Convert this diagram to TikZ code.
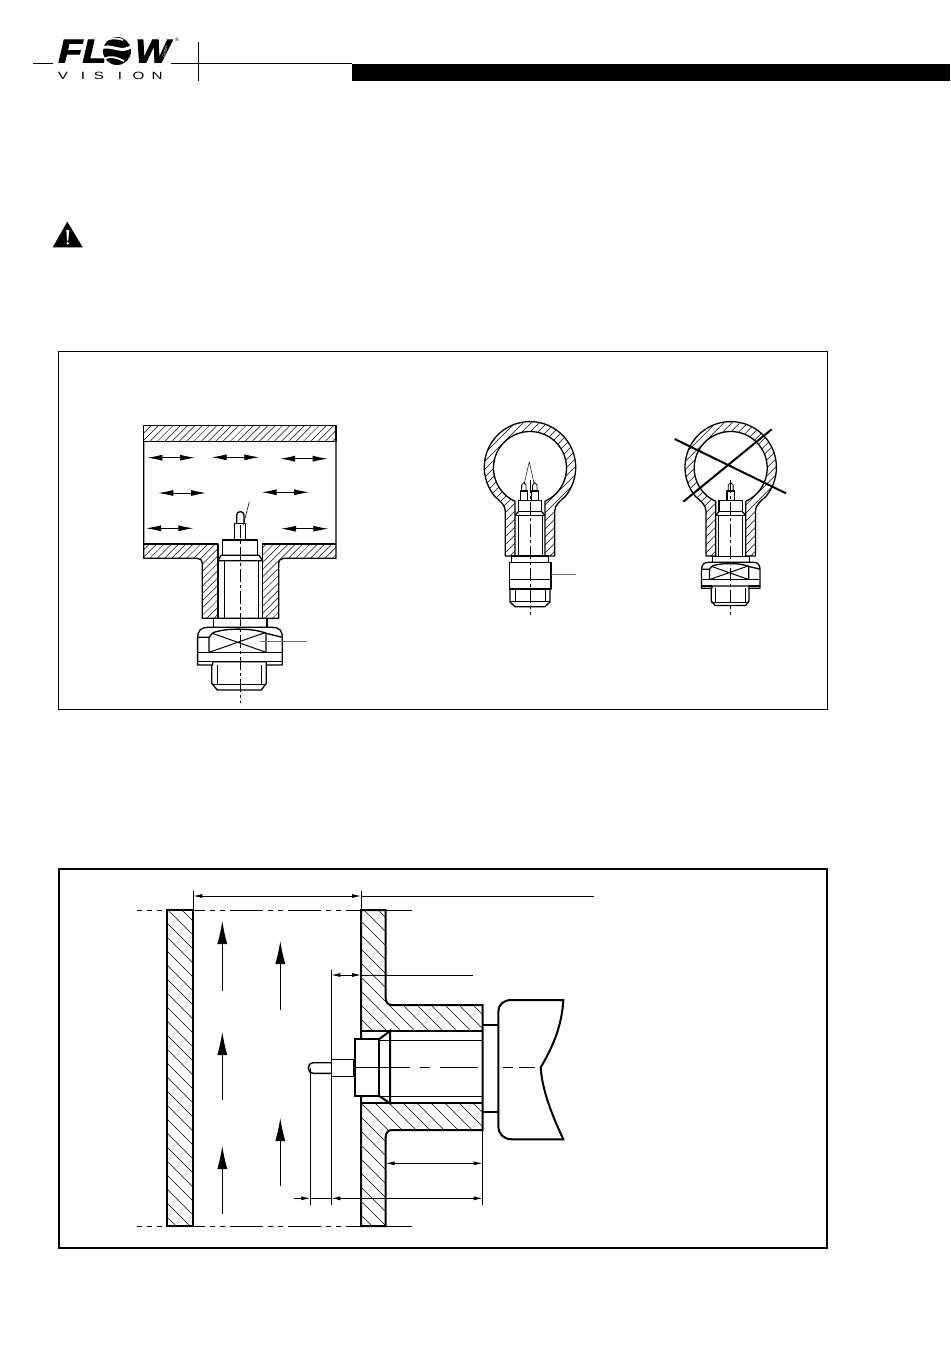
\documentclass[tikz,border=0pt]{standalone}
\usepackage{fontspec}
\setmainfont{Liberation Sans}
\newfontface\logoface[FakeBold=2.5]{Liberation Sans Bold Italic}
\usetikzlibrary{arrows.meta}
\definecolor{leaderColor}{RGB}{110,110,110}
\tikzset{
  outline/.style={line width=1.3pt,line join=round},
  wallline/.style={line width=2pt,line join=miter},
  thinline/.style={line width=0.8pt},
  dimline/.style={line width=0.8pt},
  hatchline/.style={line width=0.5pt},
  axisline/.style={line width=0.7pt,dash pattern=on 13pt off 3pt on 3pt off 3pt},
  chanline/.style={line width=0.8pt,dash pattern=on 33pt off 5pt on 5pt off 5pt on 5pt off 5pt,dash phase=21pt},
  leaderline/.style={line width=0.6pt,draw=leaderColor},
  flowtwin/.style={line width=0.8pt,{Latex[length=15pt,width=6pt]}-{Latex[length=15pt,width=6pt]}},
  flowlift/.style={line width=0.8pt,-{Latex[length=23pt,width=10pt]}},
  dimtwin/.style={dimline,{Latex[length=9pt,width=4pt]}-{Latex[length=9pt,width=4pt]}},
  dimend/.style={dimline,-{Latex[length=9pt,width=4pt]}}
}
% hatching inside a closed path: path, second value of the offset list
\newcommand{\hatchup}[2]{\begin{scope}\clip #1;
  \foreach \hk in {0,#2,...,2400} \draw[hatchline] (\hk,0) -- (\hk-1400,1400);
  \end{scope}}
\newcommand{\hatchdown}[2]{\begin{scope}\clip #1;
  \foreach \hk in {0,#2,...,2400} \draw[hatchline] (\hk-1400,0) -- (\hk,1400);
  \end{scope}}
% bulb wall, x from the axis
\newcommand{\bulbwall}{(-24.7,556) -- (-24.7,511) .. controls (-24.7,505) and (-30,501) .. (-35,496.7)
  -- plot[domain=140:400,samples=70] ({45.7*cos(\x)},{467.3+45.7*sin(\x)})
  .. controls (30,501) and (24.7,505) .. (24.7,511) -- (24.7,556) -- (15,556) -- (15,501.3)
  -- plot[domain=65.7:-245.7,samples=80] ({36.5*cos(\x)},{468+36.5*sin(\x)})
  -- (-15,556) -- cycle}
% threaded body inside the bulb neck
\newcommand{\bulbbody}{
  \draw[outline] (-11.7,500.7) rectangle (11.7,511.7);
  \draw[outline] (-15,515.3) -- (-11.7,511.7) (15,515.3) -- (11.7,511.7);
  \draw[outline] (-15,515.3) -- (15,515.3);
  \draw[thinline] (-12,515.3) -- (-12,556) (12,515.3) -- (12,556);
}
% nut and lower thread, origin at the nut top on the axis
\newcommand{\hexnut}{
  \draw[outline] (-26.7,-8.7) rectangle (26.7,0);
  \draw[outline,fill=white] (-42.7,37.7) -- (-42.7,10.7) .. controls (-42.7,3) and (-39,0) .. (-32,0) -- (32,0)
    .. controls (39,0) and (42,3) .. (42,10.7) -- (42,37.7) -- (26,37.7) -- (26,34.4) -- (-27.6,34.4) -- (-27.6,37.7) -- cycle;
  \draw[outline] (-42.7,25) -- (42,25) (-42.7,34.4) -- (-27.6,34.4) (26,34.4) -- (42,34.4);
  \draw[outline] (-42.7,10) -- (-31.3,10) -- (-31.3,25) (25.7,6) -- (25.7,25) (-31.3,10) -- (-27.5,5.5) (25.7,6) -- (42,10);
  \draw[outline] (-27.5,5.5) .. controls (-15,0.5) and (13,0.5) .. (25.7,6);
  \draw[line width=1pt] (-31,25) -- (25.7,5) (-28,6) -- (25.7,25);
  \draw[outline] (-28.6,37.7) -- (-28.6,56) -- (-23,62.7) -- (21,62.7) -- (26,56) -- (26,37.7);
  \draw[thinline] (-23,37.7) -- (-23,57.5) (21,37.7) -- (21,57.5) (-28.6,57.5) -- (26,57.5);
}
\begin{document}
\begin{tikzpicture}[x=1pt,y=-1pt]
\path[use as bounding box,fill=white] (0,0) rectangle (950,1348);

% header
\fill (352,64) rectangle (950,81);
\draw[line width=1pt] (33,63.3) -- (53,63.3) (170.7,63.3) -- (352,63.3);
\draw[line width=0.8pt] (198.3,42) -- (198.3,80.7);
\node[anchor=base west,inner sep=0pt,xscale=1.2,font=\logoface\fontsize{33}{33}\selectfont] (logoFL) at (58,62.5) {FL};
\fill (117,51) circle (14);
\draw[white,line width=3pt] (100,49) .. controls (110,42) and (122,56) .. (133,45);
\draw[white,line width=1.8pt] (103,42) .. controls (110,37) and (118,38) .. (123,40);
\draw[white,line width=1.8pt] (104,59) .. controls (110,55) and (118,58) .. (124,61);
\node[anchor=base west,inner sep=0pt,xscale=1.12,font=\logoface\fontsize{33}{33}\selectfont] (logoW) at (135,62.5) {W};
\node[inner sep=0pt,white,rotate=75,font=\fontsize{4}{4}\selectfont] (logoGmbH) at (165,52) {GmbH};
\node[inner sep=0pt,font=\fontsize{5}{5}\selectfont] (logoMark) at (177,39.5) {®};
\foreach \ltr/\xpos in {V/63,I/83,S/99,I/120,O/138.5,N/157}
  \node[anchor=base,inner sep=0pt,xscale=1.45,font=\fontsize{10.5}{10.5}\selectfont] at (\xpos,80) {\ltr};

% warning sign
\fill (67.3,221.7) -- (82.7,247.3) -- (52.7,247.3) -- cycle;
\fill[white] (66.3,230) -- (69.1,230) -- (68.3,240.7) -- (67.1,240.7) -- cycle;
\fill[white] (67.7,243.3) circle (1.4);

% upper frame
\draw[line width=0.9pt] (58.5,351.5) rectangle (827.5,709.5);

% pipe
\hatchup{(143.7,425.7) rectangle (336,441.3)}{7.3}
\hatchup{(143.7,544) -- (218,544) -- (218,618.3) -- (202.3,618.3) -- (202.3,564) .. controls (202.3,560) and (200,558.3) .. (197,558.3) -- (143.7,558.3) -- cycle}{7.3}
\hatchup{(336,544) -- (262.7,544) -- (262.7,618.3) -- (278.7,618.3) -- (278.7,564) .. controls (278.7,560) and (281,558.3) .. (284,558.3) -- (336,558.3) -- cycle}{7.3}
\draw[outline] (143.7,425.7) rectangle (336,441.3);
\draw[outline] (143.7,441.3) -- (143.7,558.3) -- (197,558.3) .. controls (200,558.3) and (202.3,560) .. (202.3,564) -- (202.3,618.3) -- (278.7,618.3) -- (278.7,564) .. controls (278.7,560) and (281,558.3) .. (284,558.3) -- (336,558.3) -- (336,441.3);
\draw[outline] (143.7,544) -- (218,544) -- (218,618.3) (336,544) -- (262.7,544) -- (262.7,618.3);
% sensor in the pipe
\draw[outline,fill=white] (234.3,540) -- (234.3,523.3) -- (245.7,523.3) -- (245.7,540);
\draw[outline] (236.7,523.3) -- (236.7,515) .. controls (236.7,512.5) and (238.5,511.7) .. (240.3,511.7) .. controls (242.2,511.7) and (244,512.5) .. (244,515) -- (244,523.3);
\draw[outline] (222.7,555.3) -- (222.7,540) -- (257.7,540) -- (257.7,555.3);
\draw[outline] (221,555.3) -- (259,555.3) (218,560.7) -- (262.7,560.7) (218,560.7) -- (221,555.3) (262.7,560.7) -- (259,555.3);
\draw[thinline] (224,560.7) -- (224,618.3) (258,560.7) -- (258,618.3);
\begin{scope}[shift={(240.3,627.3)}]
\hexnut
\end{scope}
\draw[axisline] (240.3,525) -- (240.3,703);
\draw[leaderline,draw=black] (243.3,525) -- (249.3,501.7);
\draw[leaderline] (260,641.7) -- (306.7,641.7);
\foreach \xa/\xb/\ya in {147.3/195/457.7,211.7/259.3/457.3,280/327.7/458.7,158.3/206/493,261.7/309/492.3,146/193.3/528.3,281/328.3/528.7}
  \draw[flowtwin] (\xa,\ya) -- (\xb,\ya);

% left bulb
\begin{scope}[xshift=530pt]
\hatchup{\bulbwall}{8}
\draw[outline] \bulbwall;
\bulbbody
\foreach \xs in {-6.2,4.8} {
  \draw[outline] (\xs-3.5,500.7) -- (\xs-3.5,491) -- (\xs+3.5,491) -- (\xs+3.5,500.7);
  \draw[thinline] (\xs-2.2,491) -- (\xs-2.2,485) -- (\xs,482.7) -- (\xs+2.2,485) -- (\xs+2.2,491);
}
\draw[outline] (-18.3,556) rectangle (18.7,562.3);
\draw[outline] (-20.7,562.3) rectangle (21,589);
\draw[outline] (-20.7,579.3) -- (21,579.3);
\draw[outline] (-20,589) -- (-20,602) -- (-15,606.7) -- (15,606.7) -- (20,602) -- (20,589);
\draw[thinline] (-14.3,589) -- (-14.3,601.7) (15,589) -- (15,601.7) (-20,601.7) -- (20,601.7);
\draw[axisline] (0,480) -- (0,615);
\draw[leaderline,draw=black,line width=0.5pt] (-0.7,461.7) -- (-5.7,483.3) (-0.7,461.7) -- (4,483.3);
\draw[leaderline] (21,574.3) -- (46,574.3);
\end{scope}

% right bulb
\begin{scope}[xshift=730.7pt]
\hatchup{\bulbwall}{8}
\draw[outline] \bulbwall;
\bulbbody
\draw[outline] (-3.8,500.7) -- (-3.8,491) -- (3.8,491) -- (3.8,500.7);
\draw[thinline] (-2.4,491) -- (-2.4,485) -- (0,482.7) -- (2.4,485) -- (2.4,491);
\end{scope}
\begin{scope}[shift={(731,562.3)},scale=0.69]
\hexnut
\end{scope}
\draw[axisline] (730.7,480) -- (730.7,615);
\draw[line width=2pt] (674.7,439) -- (786,493.3) (771.7,429.3) -- (683.3,501.7);

% lower frame
\draw[line width=1.8pt] (59,869) rectangle (827,1248);

% walls
\hatchdown{(166.7,910) rectangle (193.3,1226)}{14}
\draw[wallline] (166.7,910) rectangle (193.3,1226);
\hatchdown{(361,910) -- (385.7,910) -- (385.7,998.3) .. controls (385.7,1002) and (388,1005) .. (391.7,1005) -- (482.7,1005) -- (482.7,1031) -- (361,1031) -- cycle}{14}
\hatchdown{(361,1103.3) -- (482.7,1103.3) -- (482.7,1130) -- (391.7,1130) .. controls (388,1130) and (385.7,1133) .. (385.7,1136.7) -- (385.7,1226) -- (361,1226) -- cycle}{14}
\draw[wallline] (361,1039) -- (361,910) -- (385.7,910) -- (385.7,998.3) .. controls (385.7,1002) and (388,1005) .. (391.7,1005) -- (482.7,1005) -- (482.7,1130) -- (391.7,1130) .. controls (388,1130) and (385.7,1133) .. (385.7,1136.7) -- (385.7,1226) -- (361,1226) -- (361,1096);
\draw[wallline] (361,1031) -- (482.7,1031) (361,1103.3) -- (482.7,1103.3);
% sensor in the wall
\draw[wallline] (355,1039) rectangle (379.3,1096);
\draw[wallline] (379.3,1039) -- (390,1031) -- (390,1103.3) -- (379.3,1096);
\draw[thinline] (379.3,1040) -- (482.7,1040) (379.3,1096) -- (482.7,1096);
\draw[wallline,line width=1.4pt] (331.3,1059.3) rectangle (354,1076.7);
\draw[wallline,line width=1.4pt] (331.3,1062.7) -- (313,1062.7) .. controls (310,1062.7) and (308.3,1065) .. (308.3,1068) .. controls (308.3,1071) and (310,1073.3) .. (313,1073.3) -- (331.3,1073.3);
% head
\draw[wallline] (482.7,1025) -- (498.3,1025) (482.7,1112.3) -- (498.3,1112.3);
\draw[wallline] (511.7,1000) -- (563.3,1000) .. controls (562,1025) and (553,1047) .. (540.7,1067.3) .. controls (542,1090) and (552,1115) .. (563.3,1139.3) -- (511.7,1139.3) .. controls (503,1139.3) and (498.3,1133) .. (498.3,1126.7) -- (498.3,1011.7) .. controls (498.3,1005) and (503,1000) .. (511.7,1000) -- cycle;
\draw[axisline,dash pattern=on 55pt off 10pt on 10pt off 10pt on 38pt off 25pt on 10pt off 6pt on 16pt] (355,1067.3) -- (540,1067.3);

% dimensions
\draw[dimline] (193.3,891) -- (193.3,910) (361,891) -- (361,910);
\draw[dimtwin] (193.3,896) -- (361,896);
\draw[dimline] (361,896) -- (594.3,896);
\draw[dimtwin] (331.3,975) -- (361,975);
\draw[dimline] (361,975) -- (473.3,975);
\draw[dimline] (331.3,970) -- (331.3,1205) (310.3,1068) -- (310.3,1205) (482.7,1130) -- (482.7,1205);
\draw[dimtwin] (385.7,1163.3) -- (482.7,1163.3);
\draw[dimend] (294,1198.3) -- (310.3,1198.3);
\draw[dimline] (310.3,1198.3) -- (331.3,1198.3);
\draw[dimtwin] (331.3,1198.3) -- (482.7,1198.3);
% flow arrows
\foreach \xa/\ya/\yb in {222.3/991/921,222.3/1100/1032,222.3/1214/1146,280.3/1010/941,280.3/1186/1118}
  \draw[flowlift] (\xa,\ya) -- (\xa,\yb);
% centre lines of the channel
\draw[chanline] (193.3,910) -- (361,910);
\draw[chanline] (193.3,1226) -- (361,1226);
\draw[dimline,dash pattern=on 5pt off 5pt] (137,910) -- (166.7,910) (137,1226) -- (166.7,1226);
\draw[dimline] (385.7,910) -- (411.7,910) (385.7,1226) -- (411.7,1226);
\end{tikzpicture}
\end{document}
